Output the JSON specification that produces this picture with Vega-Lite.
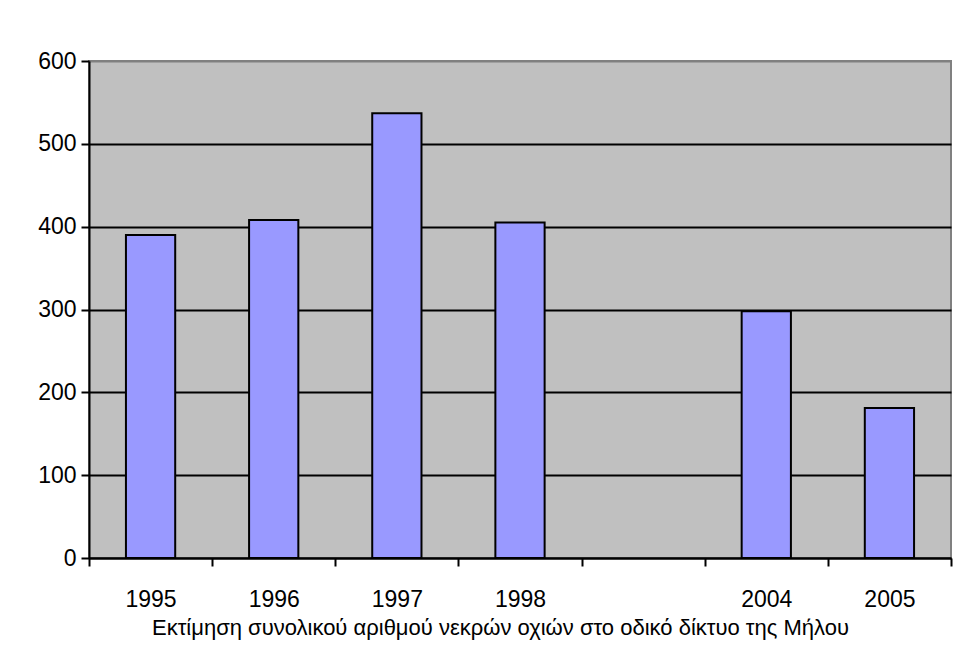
{
  "$schema": "https://vega.github.io/schema/vega-lite/v6.json",
  "autosize": "none",
  "width": 862,
  "height": 497,
  "padding": {"left": 89, "top": 61, "right": 10, "bottom": 92},
  "background": "white",
  "config": {
    "font": "Liberation Sans, Arial",
    "view": {"fill": "#C0C0C0", "stroke": "#808080", "strokeWidth": 2}
  },
  "data": {
    "values": [
      {"year": "1995", "count": 390},
      {"year": "1996", "count": 408},
      {"year": "1997", "count": 537},
      {"year": "1998", "count": 405},
      {"year": "2004", "count": 298},
      {"year": "2005", "count": 181}
    ]
  },
  "mark": {"type": "bar", "fill": "#9999FF", "stroke": "black", "strokeWidth": 2, "width": {"band": 0.4}},
  "encoding": {
    "x": {
      "field": "year",
      "type": "nominal",
      "scale": {"domain": ["1995", "1996", "1997", "1998", " ", "2004", "2005"], "paddingInner": 0, "paddingOuter": 0},
      "axis": {
        "title": "Εκτίμηση συνολικού αριθμού νεκρών οχιών στο οδικό δίκτυο της Μήλου",
        "labelAngle": 0,
        "tickBand": "extent",
        "tickColor": "black",
        "tickWidth": 2,
        "tickSize": 8,
        "domainColor": "black",
        "domainWidth": 2,
        "labelFontSize": 23,
        "labelColor": "black",
        "labelPadding": 22,
        "titleFontSize": 22,
        "titleFontWeight": "normal",
        "titleColor": "black",
        "titlePadding": 6,
        "titleX": 411,
        "grid": false
      }
    },
    "y": {
      "field": "count",
      "type": "quantitative",
      "scale": {"domain": [0, 600], "nice": false},
      "axis": {
        "title": null,
        "values": [0, 100, 200, 300, 400, 500, 600],
        "grid": true,
        "gridColor": {"condition": {"test": "datum.value === 600", "value": "#808080"}, "value": "black"},
        "gridWidth": 2,
        "gridOpacity": 1,
        "tickColor": "black",
        "tickWidth": 2,
        "tickSize": 8,
        "domainColor": "black",
        "domainWidth": 2,
        "labelFontSize": 23,
        "labelColor": "black",
        "labelPadding": 5
      }
    }
  }
}
